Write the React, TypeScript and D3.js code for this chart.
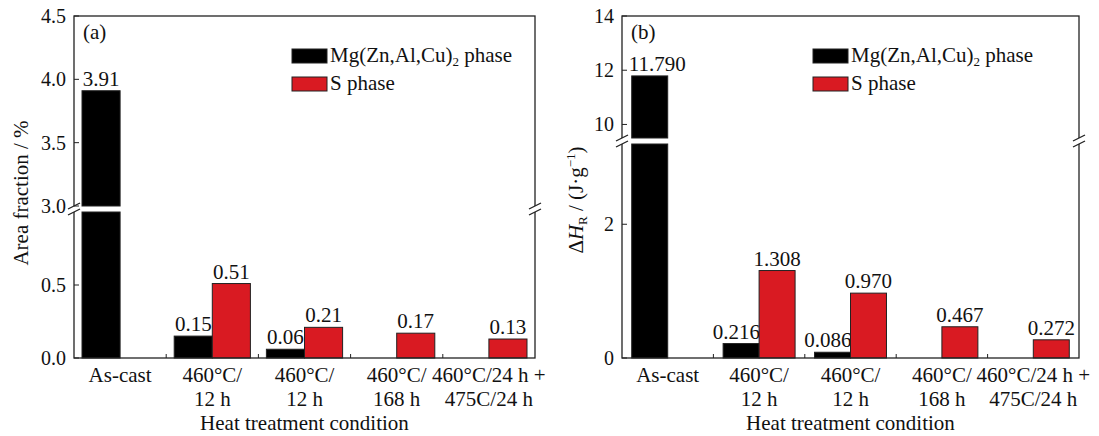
import * as d3 from 'd3';
import React from 'react';

// categories (two lines each)
const categories = [
  ['As-cast'],
  ['460°C/', '12 h'],
  ['460°C/', '12 h'],
  ['460°C/', '168 h'],
  ['460°C/24 h +', '475C/24 h'],
];

// (a) area fraction, %
const areaMg = [3.91, 0.15, 0.06, null, null];
const areaS = [null, 0.51, 0.21, 0.17, 0.13];
const areaTicksLow = [0, 0.5];
const areaTicksHigh = [3.0, 3.5, 4.0, 4.5];

// (b) enthalpy, J/g
const enthalpyMg = [11.79, 0.216, 0.086, null, null];
const enthalpyS = [null, 1.308, 0.97, 0.467, 0.272];
const enthalpyTicksLow = [0, 2];
const enthalpyTicksHigh = [10, 12, 14];

const FONT = '"Liberation Serif", "Times New Roman", serif';
const RED = '#d91a22';
const BOTTOM = 358;
const TOP = 16;

// rough text width of a number label at 21px (digits 0.5em, dot 0.25em)
const labelWidth = (s: string) => s.split('').reduce((a, ch) => a + (ch === '.' ? 5.25 : 10.5), 0);

type PanelProps = {
  x0: number; x1: number;
  mg: (number | null)[]; s: (number | null)[];
  lowDomain: number[]; lowTop: number;
  highDomain: number[]; highBottom: number;
  ticksLow: number[]; ticksHigh: number[];
  tickFmt: (d: number) => string;
  valFmt: (d: number) => string;
  pad: number;
  tag: string;
  legendX: number;
  ylabel: React.ReactNode;
  ylabelX: number; ylabelY: number;
};

function Panel(p: PanelProps) {
  const yLow = d3.scaleLinear().domain(p.lowDomain).range([BOTTOM, p.lowTop]);
  const yHigh = d3.scaleLinear().domain(p.highDomain).range([p.highBottom, TOP]);
  const xBand = d3.scaleBand<number>().domain(d3.range(categories.length)).range([p.x0, p.x1]);
  const xSub = d3.scaleBand<string>().domain(['mg', 's']).range([0, xBand.bandwidth()]).paddingOuter(p.pad);
  const lowMax = p.lowDomain[1];
  const highMin = p.highDomain[0];

  const bar = (v: number | null, i: number, key: string, fill: string) => {
    if (v == null) return null;
    const x = (xBand(i) as number) + (xSub(key) as number);
    const w = xSub.bandwidth();
    const broken = v > highMin;
    const top = broken ? yHigh(v) : yLow(v);
    const label = p.valFmt(v);
    // wide black labels are pushed away from the red neighbour
    let lx = x + w / 2, anchor = 'middle';
    if (key === 'mg' && labelWidth(label) > w) {
      if (p.s[i] != null) { lx = x + w + 1; anchor = 'end'; }
      else { lx = x - 3; anchor = 'start'; }
    }
    return (
      <g key={key + i}>
        {broken ? (
          <>
            <rect x={x} y={top} width={w} height={yHigh(highMin) - top} fill={fill} stroke="#222" strokeWidth={1} />
            <rect x={x} y={yLow(lowMax)} width={w} height={BOTTOM - yLow(lowMax)} fill={fill} stroke="#222" strokeWidth={1} />
          </>
        ) : (
          <rect x={x} y={top} width={w} height={BOTTOM - top} fill={fill} stroke="#222" strokeWidth={1} />
        )}
        <text x={lx} y={top - 5} textAnchor={anchor} fontSize={21}>{label}</text>
      </g>
    );
  };

  const breakMarks = (ax: number) => {
    const a = p.highBottom, b = p.lowTop;
    return (
      <g key={'brk' + ax}>
        <rect x={ax - 2} y={a} width={4} height={b - a} fill="#fff" />
        <line x1={ax - 6} y1={a + 3} x2={ax + 6} y2={a - 3} stroke="#222" strokeWidth={1.3} />
        <line x1={ax - 6} y1={b + 3} x2={ax + 6} y2={b - 3} stroke="#222" strokeWidth={1.3} />
      </g>
    );
  };

  const tick = (y: number, d: number, k: string) => (
    <g key={k}>
      <line x1={p.x0} x2={p.x0 + 5} y1={y} y2={y} stroke="#222" />
      <text x={p.x0 - 8} y={y} dy="0.35em" textAnchor="end" fontSize={20}>{p.tickFmt(d)}</text>
    </g>
  );

  return (
    <g fontFamily={FONT} fill="#111">
      {categories.map((c, i) => bar(p.mg[i], i, 'mg', '#000'))}
      {categories.map((c, i) => bar(p.s[i], i, 's', RED))}
      <rect x={p.x0} y={TOP} width={p.x1 - p.x0} height={BOTTOM - TOP} fill="none" stroke="#222" strokeWidth={1.3} />
      {breakMarks(p.x0)}
      {breakMarks(p.x1)}
      {p.ticksLow.map((d, i) => tick(yLow(d), d, 'l' + i))}
      {p.ticksHigh.map((d, i) => tick(yHigh(d), d, 'h' + i))}
      {d3.range(1, categories.length).map((i) => (
        <line key={'xt' + i} x1={xBand(i)} x2={xBand(i)} y1={BOTTOM} y2={BOTTOM - 4} stroke="#222" />
      ))}
      {categories.map((c, i) => (
        <text key={'cat' + i} x={(xBand(i) as number) + xBand.bandwidth() / 2} y={382} textAnchor="middle" fontSize={21}>
          {c.map((line, j) => (
            <tspan key={j} x={(xBand(i) as number) + xBand.bandwidth() / 2} dy={j === 0 ? 0 : 24}>{line}</tspan>
          ))}
        </text>
      ))}
      <text x={(p.x0 + p.x1) / 2} y={430} textAnchor="middle" fontSize={21}>Heat treatment condition</text>
      <text x={p.x0 + 9} y={39} fontSize={21}>{p.tag}</text>
      <rect x={p.legendX} y={49} width={35} height={14} fill="#000" stroke="#222" />
      <rect x={p.legendX} y={77} width={35} height={14} fill={RED} stroke="#222" />
      <text x={p.legendX + 38} y={62} fontSize={21}>
        Mg(Zn,Al,Cu)<tspan fontSize={13} dy={4}>2</tspan><tspan dy={-4}> phase</tspan>
      </text>
      <text x={p.legendX + 38} y={90} fontSize={21}>S phase</text>
      <text transform={`translate(${p.ylabelX},${p.ylabelY}) rotate(-90)`} textAnchor="middle" fontSize={21}>{p.ylabel}</text>
    </g>
  );
}

export default function App() {
  return (
    <svg width={1099} height={436} style={{ position: 'absolute', left: 0, top: 0, background: '#fff' }}>
      <Panel
        x0={74} x1={535}
        mg={areaMg} s={areaS}
        lowDomain={[0, 1.0]} lowTop={212}
        highDomain={[3.0, 4.5]} highBottom={206}
        ticksLow={areaTicksLow} ticksHigh={areaTicksHigh}
        tickFmt={(d) => d.toFixed(1)} valFmt={(d) => d.toFixed(2)}
        pad={0.21} tag="(a)" legendX={292}
        ylabel="Area fraction / %" ylabelX={28} ylabelY={193}
      />
      <Panel
        x0={622} x1={1079}
        mg={enthalpyMg} s={enthalpyS}
        lowDomain={[0, 3.2]} lowTop={144}
        highDomain={[9.5, 14]} highBottom={138}
        ticksLow={enthalpyTicksLow} ticksHigh={enthalpyTicksHigh}
        tickFmt={(d) => String(d)} valFmt={(d) => d.toFixed(3)}
        pad={0.27} tag="(b)" legendX={813}
        ylabel={<>
          Δ<tspan fontStyle="italic">H</tspan><tspan fontSize={13} dy={4}>R</tspan><tspan dy={-4}> / (J·g</tspan><tspan fontSize={13} dy={-8}>−1</tspan><tspan dy={8}>)</tspan>
        </>}
        ylabelX={583} ylabelY={200}
      />
    </svg>
  );
}
